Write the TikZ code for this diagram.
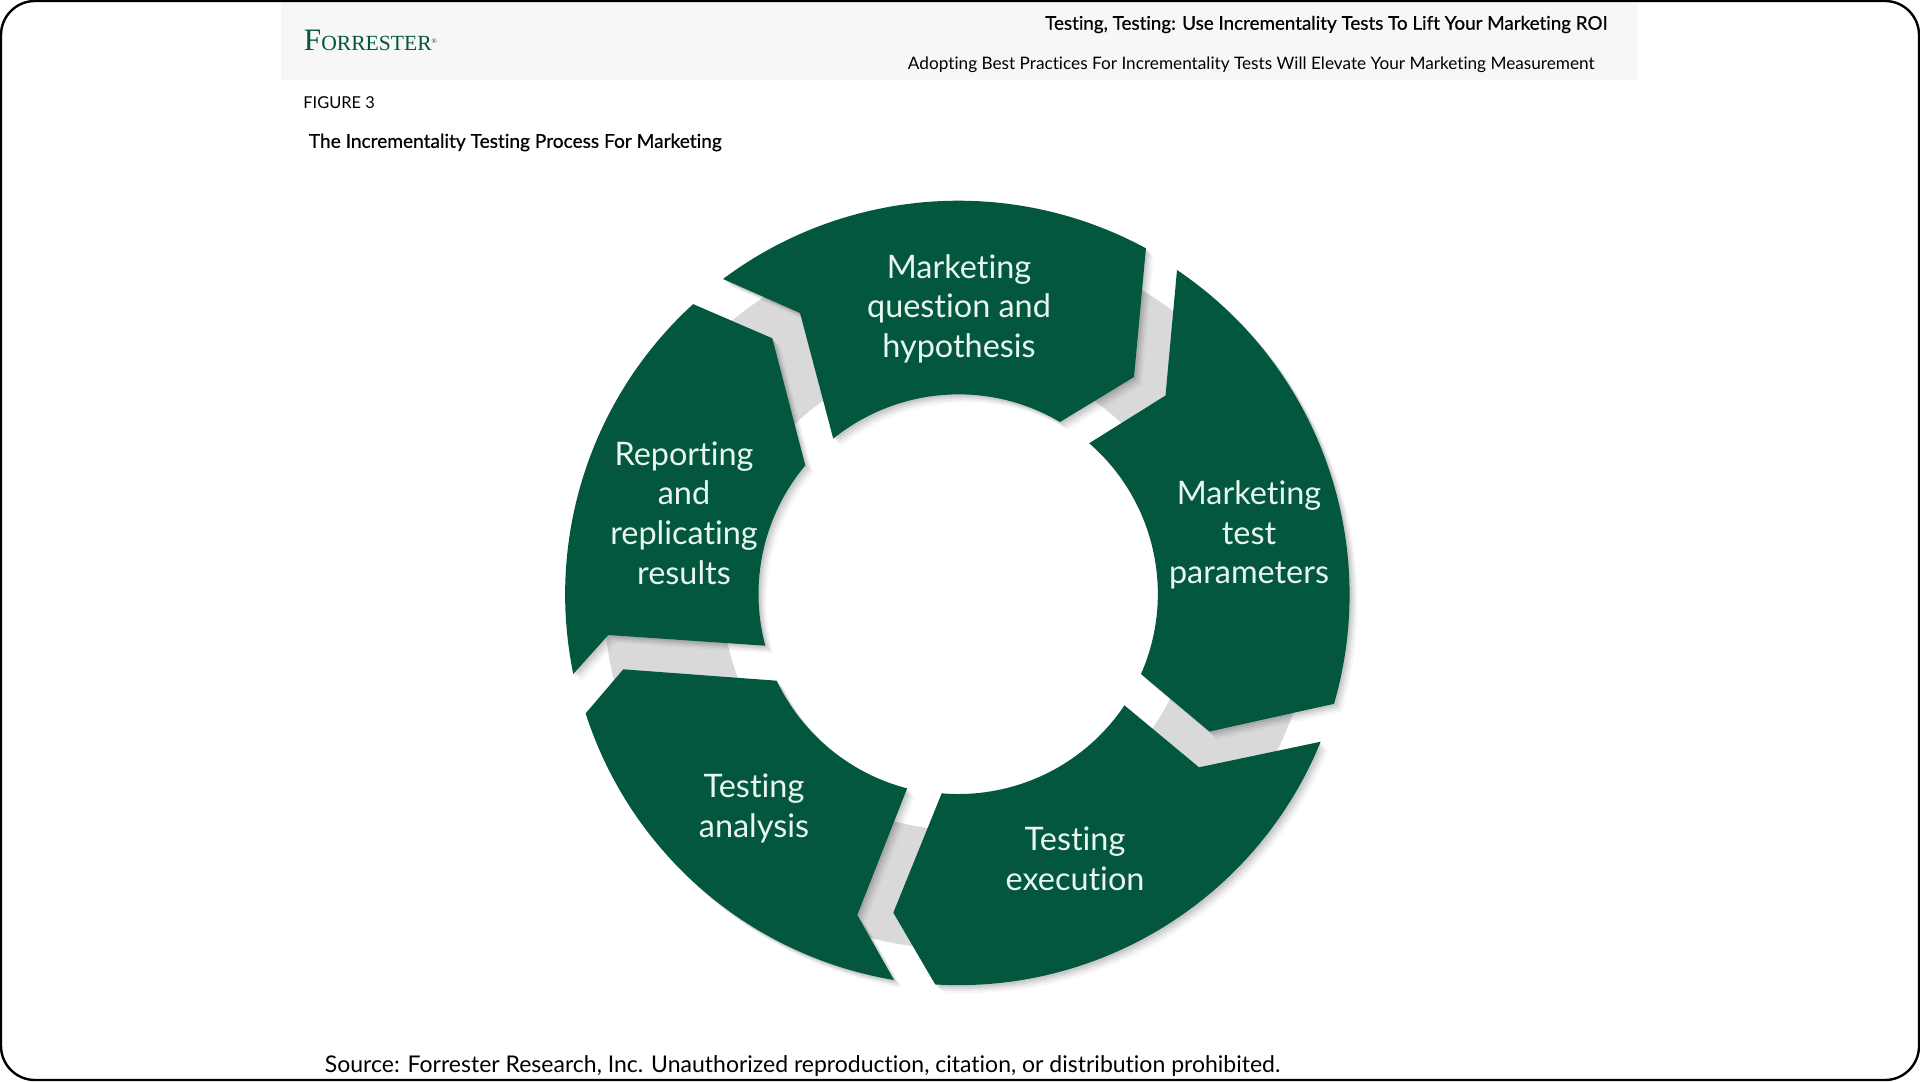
\documentclass[tikz,border=0pt]{standalone}
\usepackage{xcolor}
\usepackage{fontspec}
\setmainfont{Lato}[Ligatures=NoCommon]
\newfontfamily\logofont{Liberation Serif}
\newfontfamily\headfont{Lato}[FakeBold=0.5,Ligatures=NoCommon]
\definecolor{segcol}{HTML}{03573F}
\definecolor{ringcol}{HTML}{D9D9D9}
\definecolor{bandcol}{HTML}{F7F7F7}
\definecolor{segtext}{HTML}{E9F5EF}
\tikzset{
    segment/.style={fill=segcol,
        preaction={fill=black,fill opacity=.08,transform canvas={shift={(1pt,-1pt)}}},
        preaction={fill=black,fill opacity=.07,transform canvas={shift={(2pt,-2pt)}}},
        preaction={fill=black,fill opacity=.05,transform canvas={shift={(3pt,-3pt)}}},
        preaction={fill=black,fill opacity=.03,transform canvas={shift={(4pt,-4pt)}}}},
    seglabel/.style={text=segtext,align=center,font=\fontsize{16.2}{19.8}\selectfont},
}

\begin{document}
\begin{tikzpicture}[x=0.5pt,y=-0.5pt]
            \useasboundingbox (0,0) rectangle (1920,1081);
            \coordinate (c) at (958.5,594);
            \fill[bandcol] (281,2) rectangle (1638,80);
            % grey ring behind the arrows
            \fill[ringcol,even odd rule] (c) circle(355) (c) circle(236);
            % arrows
            \draw[segment,draw=none] (723,279) arc[start angle=-126.8,end angle=-61.5,radius=393] -- (1134,377) -- (1060,422)
                arc[start angle=-59.5,end angle=-128.9,radius=199.7] -- (800,313) -- cycle;
            \draw[segment,draw=none] (1177,270) arc[start angle=-56,end angle=16.2,radius=391.5] -- (1209.5,731.5) -- (1141,674)
                arc[start angle=23.7,end angle=-49,radius=199.5] -- (1165.5,395.5) -- cycle;
            \draw[segment,draw=none] (1320.7,741.7) arc[start angle=22.2,end angle=93.4,radius=391.3] -- (893.3,912.7) -- (941.7,793.3)
                arc[start angle=94.8,end angle=33.8,radius=199.8] -- (1199,767.3) -- cycle;
            \draw[segment,draw=none] (894,980) arc[start angle=99.5,end angle=162.2,radius=391.8] -- (623.3,669.3) -- (776.7,680.7)
                arc[start angle=154.5,end angle=104.6,radius=200.5] -- (857.3,915) -- cycle;
            \draw[segment,draw=none] (573.3,674) arc[start angle=168.3,end angle=227.6,radius=393] -- (772.3,338.3) -- (805.3,465.4)
                arc[start angle=220,end angle=165,radius=200] -- (608.3,635) -- cycle;
            % labels
            \node[seglabel] (question) at (959,308.5) {Marketing\\question and\\hypothesis};
            \node[seglabel] (parameters) at (1249,535) {Marketing\\test\\parameters};
            \node[seglabel] (execution) at (1075,858.5) {Testing\\execution};
            \node[seglabel] (analysis) at (754,808.5) {Testing\\analysis};
            \node[seglabel] (reporting) at (684,513) {Reporting\\and\\replicating\\results};
            % header and captions
            \node[anchor=base west,text=segcol,inner sep=0pt] (logo) at (303.5,51) {\logofont\fontsize{15.6}{14}\selectfont F\fontsize{10.8}{14}\selectfont ORRESTER\raisebox{3.6pt}{\fontsize{3.5}{4}\selectfont ®}};
            \node[anchor=east,inner sep=0pt,font=\headfont\fontsize{9.4}{11}\selectfont] (title) at (1608,24.5) {Testing, Testing: Use Incrementality Tests To Lift Your Marketing ROI};
            \node[anchor=east,inner sep=0pt,font=\fontsize{8.6}{11}\selectfont] (subtitle) at (1595,65) {Adopting Best Practices For Incrementality Tests Will Elevate Your Marketing Measurement};
            \node[anchor=west,inner sep=0pt,font=\fontsize{8.2}{11}\selectfont] (figure) at (303,103) {FIGURE 3};
            \node[anchor=west,inner sep=0pt,font=\headfont\fontsize{9.55}{11}\selectfont] (heading) at (308.5,142.5) {The Incrementality Testing Process For Marketing};
            \node[anchor=west,inner sep=0pt,font=\fontsize{11.5}{13}\selectfont] (source) at (324.5,1066) {Source: Forrester Research, Inc. Unauthorized reproduction, citation, or distribution prohibited.};
            \draw[line width=1.2pt,rounded corners=17pt] (1,1) rectangle (1919,1080);
        \end{tikzpicture}
\end{document}
